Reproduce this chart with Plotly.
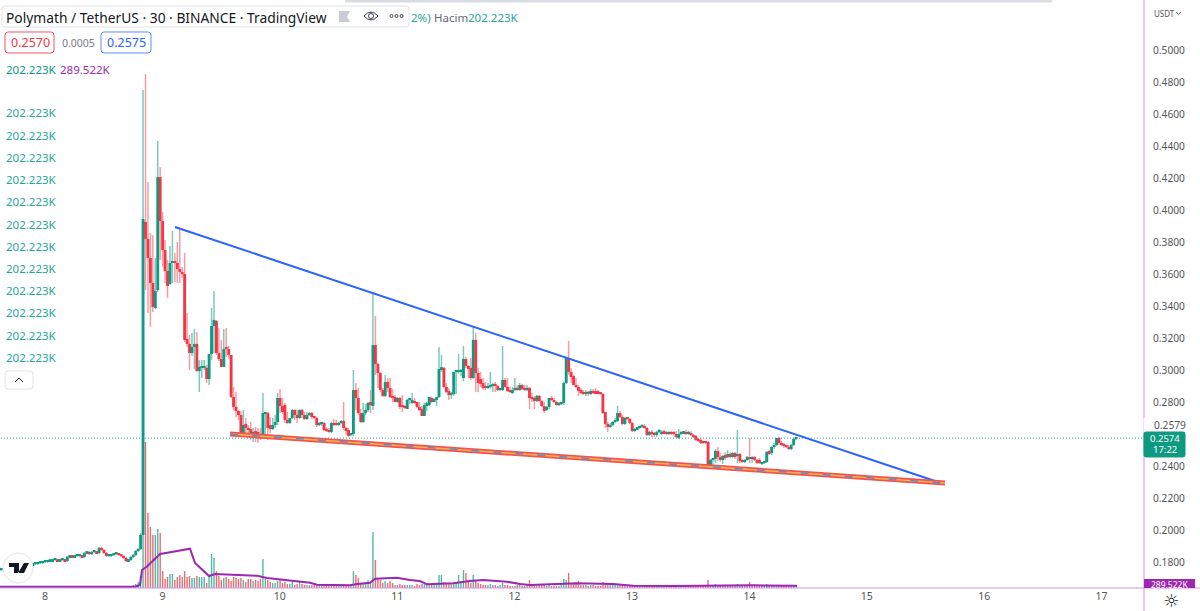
import plotly.graph_objects as go

WIDTH = 1200
HEIGHT = 611

GREEN = '#0d9a80'
RED = '#f23645'
PINK = '#d78fe3'
PURPLE = '#9c27b0'
FONT = 'Noto Sans'

# 30 minute candles, first one at start_day, one every 1/48 day
start_day = 7.627

opens = [
    .1750, .1750, .1750, .1756, .1750, .1756, .1763, .1763, .1769, .1769,
    .1775, .1775, .1781, .1781, .1788, .1788, .1794, .1794, .1800, .1800,
    .1806, .1806, .1813, .1813, .1806, .1813, .1813, .1806, .1831, .1834,
    .1831, .1838, .1838, .1838, .1831, .1856, .1859, .1850, .1863, .1863,
    .1856, .1888, .1875, .1856, .1838, .1838, .1844, .1850, .1850, .1844,
    .1838, .1825, .1806, .1813, .1831, .1844, .1869, .1881,
    .1969, .3925, .3819, .3700, .3544, .3388, .3500, .4206, .3931, .3750,
    .3619, .3538, .3669, .3681, .3669, .3631, .3613, .3600, .3194, .3163,
    .3106, .3144, .3163, .2994, .3013, .3013, .3013, .2944, .3100, .3275,
    .3306, .3106, .3069, .3019, .3144, .3131, .3094, .2831, .2769, .2744,
    .2719, .2606, .2663, .2638, .2631, .2600, .2613, .2613, .2600, .2581,
    .2725, .2731, .2656, .2631, .2656, .2675, .2825, .2775, .2781, .2688,
    .2669, .2700, .2750, .2719, .2700, .2750, .2719, .2694, .2719, .2731,
    .2706, .2700, .2656, .2663, .2669, .2631, .2625, .2613, .2669, .2669,
    .2656, .2669, .2681, .2638, .2625, .2594, .2600, .2875, .2825, .2731,
    .2675, .2731, .2750, .2800, .2775, .3156, .3038, .2981, .2875, .2838,
    .2925, .2888, .2831, .2831, .2800, .2825, .2775, .2769, .2756, .2813,
    .2794, .2806, .2800, .2769, .2756, .2713, .2781, .2781, .2825, .2806,
    .2813, .2831, .3006, .3013, .2894, .2869, .2844, .2850, .2988, .2988,
    .2988, .2950, .3069, .3025, .3013, .2950, .3188, .2981, .2944, .2919,
    .2894, .2888, .2894, .2900, .2913, .2900, .2875, .2875, .2938, .2894,
    .2875, .2856, .2875, .2888, .2875, .2906, .2888, .2875, .2888, .2825,
    .2825, .2806, .2838, .2806, .2775, .2750, .2769, .2825, .2813, .2800,
    .2781, .2788, .2794, .2919, .3075, .2988, .2963, .2906, .2894, .2875,
    .2863, .2850, .2863, .2850, .2869, .2863, .2863, .2856, .2850, .2738,
    .2663, .2644, .2656, .2675, .2681, .2731, .2706, .2663, .2700, .2694,
    .2669, .2619, .2631, .2638, .2644, .2650, .2638, .2594, .2613, .2600,
    .2594, .2613, .2600, .2613, .2606, .2600, .2606, .2606, .2600, .2575,
    .2600, .2606, .2613, .2600, .2606, .2594, .2588, .2569, .2563, .2550,
    .2550, .2550, .2406, .2438, .2444, .2494, .2456, .2438, .2463, .2456,
    .2475, .2456, .2481, .2463, .2475, .2431, .2425, .2438, .2456, .2444,
    .2456, .2438, .2438, .2413, .2419, .2425, .2488, .2481, .2519, .2531,
    .2575, .2544, .2538, .2525, .2519, .2506, .2531, .2569,
]

highs = [
    .1756, .1756, .1763, .1763, .1763, .1769, .1769, .1775, .1775, .1781,
    .1781, .1788, .1788, .1794, .1794, .1800, .1800, .1806, .1806, .1813,
    .1813, .1819, .1819, .1819, .1819, .1819, .1819, .1838, .1844, .1844,
    .1844, .1844, .1844, .1844, .1863, .1869, .1869, .1869, .1869, .1869,
    .1894, .1894, .1881, .1863, .1844, .1850, .1856, .1856, .1856, .1850,
    .1844, .1831, .1819, .1838, .1850, .1875, .1888, .1981,
    .4750, .4850, .4175, .3856, .3844, .3700, .4431, .4269, .3988, .3813,
    .3688, .3775, .3869, .3731, .3800, .3888, .3644, .3731, .3356, .3219,
    .3231, .3256, .3238, .3063, .3063, .3063, .3031, .3094, .3388, .3494,
    .3313, .3263, .3188, .3256, .3263, .3150, .3094, .2894, .2863, .2750,
    .2744, .2750, .2700, .2656, .2675, .2638, .2644, .2638, .2638, .2856,
    .2738, .2738, .2706, .2700, .2719, .2856, .2881, .2825, .2794, .2738,
    .2700, .2756, .2756, .2750, .2756, .2756, .2738, .2738, .2738, .2738,
    .2713, .2706, .2675, .2675, .2675, .2644, .2638, .2675, .2694, .2688,
    .2675, .2688, .2800, .2644, .2638, .2606, .3000, .2919, .2888, .2756,
    .2794, .2788, .2800, .2875, .3488, .3338, .3044, .2988, .2888, .2969,
    .2950, .2950, .2881, .2844, .2831, .2831, .2844, .2781, .2819, .2825,
    .2856, .2825, .2800, .2800, .2775, .2794, .2800, .2831, .2831, .2825,
    .2831, .3144, .3094, .3019, .2919, .2888, .2863, .2988, .2994, .3100,
    .3006, .3150, .3081, .3031, .3075, .3275, .3231, .3013, .2988, .2950,
    .2925, .2919, .2988, .2919, .2925, .2906, .2881, .3150, .2950, .2950,
    .2894, .2894, .2950, .2906, .2919, .2913, .2906, .2906, .2894, .2856,
    .2838, .2844, .2844, .2813, .2800, .2775, .2825, .2838, .2825, .2806,
    .2800, .2800, .2925, .3081, .3181, .3013, .2969, .2950, .2906, .2888,
    .2875, .2875, .2869, .2881, .2881, .2888, .2875, .2863, .2856, .2738,
    .2675, .2669, .2681, .2700, .2775, .2744, .2719, .2706, .2706, .2700,
    .2675, .2638, .2644, .2650, .2663, .2663, .2644, .2619, .2625, .2613,
    .2619, .2631, .2625, .2625, .2619, .2619, .2619, .2619, .2619, .2631,
    .2619, .2619, .2625, .2619, .2619, .2600, .2594, .2575, .2575, .2556,
    .2556, .2556, .2444, .2450, .2506, .2519, .2481, .2469, .2488, .2500,
    .2488, .2488, .2488, .2625, .2481, .2444, .2444, .2463, .2575, .2463,
    .2463, .2444, .2450, .2425, .2431, .2494, .2500, .2525, .2544, .2575,
    .2581, .2556, .2544, .2531, .2531, .2538, .2575, .2581,
]

lows = [
    .1744, .1744, .1744, .1744, .1744, .1750, .1756, .1756, .1763, .1763,
    .1769, .1769, .1775, .1775, .1781, .1781, .1788, .1788, .1794, .1794,
    .1800, .1800, .1806, .1800, .1800, .1806, .1800, .1800, .1825, .1825,
    .1825, .1831, .1831, .1825, .1825, .1850, .1844, .1844, .1856, .1850,
    .1850, .1869, .1850, .1831, .1831, .1831, .1838, .1844, .1838, .1831,
    .1819, .1800, .1800, .1806, .1825, .1838, .1863, .1875,
    .1969, .3500, .3356, .3269, .3363, .3381, .3488, .3688, .3644, .3544,
    .3450, .3531, .3544, .3550, .3544, .3544, .3575, .3175, .3144, .3000,
    .3088, .3006, .2988, .2863, .2950, .3000, .2919, .2906, .3063, .3106,
    .3094, .3056, .3019, .3019, .3081, .3069, .2825, .2750, .2706, .2688,
    .2594, .2600, .2600, .2594, .2563, .2550, .2550, .2544, .2563, .2569,
    .2581, .2563, .2606, .2625, .2638, .2656, .2731, .2725, .2669, .2663,
    .2663, .2694, .2688, .2669, .2694, .2700, .2688, .2688, .2713, .2694,
    .2694, .2644, .2650, .2650, .2619, .2613, .2606, .2606, .2650, .2650,
    .2650, .2663, .2625, .2594, .2581, .2588, .2588, .2750, .2719, .2669,
    .2669, .2719, .2738, .2731, .2750, .2969, .2888, .2863, .2831, .2831,
    .2863, .2825, .2800, .2800, .2794, .2756, .2738, .2756, .2756, .2788,
    .2788, .2788, .2763, .2744, .2713, .2713, .2744, .2775, .2794, .2800,
    .2775, .2825, .2988, .2888, .2856, .2813, .2819, .2838, .2850, .2975,
    .2963, .2931, .3013, .2950, .2938, .2944, .2863, .2863, .2894, .2875,
    .2875, .2881, .2888, .2863, .2863, .2869, .2869, .2869, .2888, .2863,
    .2856, .2850, .2869, .2869, .2869, .2875, .2869, .2869, .2756, .2800,
    .2756, .2800, .2800, .2769, .2731, .2744, .2756, .2806, .2794, .2775,
    .2775, .2781, .2781, .2913, .2969, .2919, .2906, .2888, .2838, .2850,
    .2844, .2838, .2838, .2844, .2850, .2850, .2850, .2844, .2725, .2638,
    .2613, .2638, .2650, .2669, .2675, .2700, .2656, .2656, .2688, .2663,
    .2613, .2613, .2625, .2631, .2638, .2631, .2588, .2588, .2581, .2581,
    .2581, .2606, .2594, .2600, .2594, .2594, .2594, .2594, .2575, .2569,
    .2594, .2600, .2594, .2594, .2588, .2575, .2556, .2550, .2538, .2538,
    .2538, .2400, .2400, .2394, .2419, .2431, .2425, .2413, .2438, .2450,
    .2450, .2450, .2444, .2419, .2419, .2419, .2419, .2431, .2419, .2419,
    .2431, .2413, .2413, .2406, .2413, .2419, .2469, .2469, .2506, .2525,
    .2531, .2525, .2513, .2513, .2500, .2500, .2525, .2563,
]

closes = [
    .1750, .1750, .1756, .1750, .1756, .1763, .1763, .1769, .1769, .1775,
    .1775, .1781, .1781, .1788, .1788, .1794, .1794, .1800, .1800, .1806,
    .1806, .1813, .1813, .1806, .1813, .1813, .1806, .1831, .1834, .1831,
    .1838, .1838, .1838, .1831, .1856, .1859, .1850, .1863, .1863, .1856,
    .1888, .1875, .1856, .1838, .1838, .1844, .1850, .1850, .1844, .1838,
    .1825, .1806, .1813, .1831, .1844, .1869, .1881, .1969,
    .3944, .3819, .3700, .3544, .3394, .3494, .4206, .3931, .3750, .3619,
    .3525, .3669, .3681, .3669, .3631, .3613, .3600, .3188, .3163, .3106,
    .3144, .3163, .2994, .3019, .3019, .3019, .2944, .3100, .3275, .3313,
    .3106, .3069, .3019, .3131, .3131, .3094, .2831, .2769, .2744, .2719,
    .2606, .2656, .2638, .2625, .2600, .2606, .2606, .2594, .2581, .2731,
    .2731, .2638, .2631, .2656, .2675, .2825, .2775, .2738, .2688, .2669,
    .2700, .2750, .2719, .2700, .2750, .2719, .2694, .2719, .2731, .2706,
    .2700, .2656, .2669, .2669, .2625, .2619, .2613, .2669, .2656, .2656,
    .2669, .2681, .2638, .2619, .2588, .2600, .2875, .2825, .2731, .2675,
    .2731, .2750, .2794, .2781, .3156, .3038, .2981, .2875, .2838, .2925,
    .2888, .2831, .2825, .2800, .2825, .2769, .2769, .2763, .2813, .2819,
    .2813, .2794, .2769, .2750, .2713, .2781, .2788, .2831, .2800, .2813,
    .2831, .3006, .3013, .2894, .2863, .2844, .2850, .2988, .2994, .2994,
    .2994, .3069, .3025, .3006, .2950, .3188, .2981, .2919, .2913, .2888,
    .2888, .2894, .2900, .2906, .2900, .2875, .2881, .2938, .2894, .2869,
    .2863, .2875, .2888, .2875, .2906, .2881, .2875, .2888, .2825, .2819,
    .2806, .2838, .2806, .2775, .2744, .2769, .2825, .2813, .2800, .2781,
    .2794, .2794, .2919, .3075, .2988, .2956, .2906, .2894, .2869, .2856,
    .2850, .2863, .2850, .2869, .2856, .2856, .2856, .2850, .2731, .2663,
    .2644, .2656, .2675, .2681, .2731, .2706, .2663, .2700, .2694, .2669,
    .2619, .2631, .2638, .2644, .2650, .2638, .2594, .2613, .2600, .2594,
    .2613, .2619, .2613, .2606, .2600, .2606, .2600, .2600, .2581, .2600,
    .2606, .2613, .2600, .2613, .2594, .2581, .2563, .2556, .2544, .2544,
    .2544, .2406, .2438, .2444, .2494, .2456, .2438, .2463, .2456, .2475,
    .2456, .2481, .2456, .2475, .2431, .2425, .2438, .2456, .2444, .2450,
    .2438, .2419, .2419, .2419, .2425, .2488, .2481, .2519, .2531, .2575,
    .2544, .2531, .2525, .2519, .2506, .2531, .2569, .2575,
]

# volume in millions
volumes = [
    .2, .2, .2, .2, .2, .2, .2, .2, .2, .2,
    .2, .2, .2, .2, .2, .2, .2, .2, .2, .2,
    .2, .2, .2, .2, .2, .2, .2, .2, .2, .2,
    .2, .2, .2, .2, .2, .2, .2, .2, .2, .2,
    .2, .2, .2, .2, .2, .2, .2, .2, .2, .2,
    .2, .2, .2, .2, .3, .4, .6, 1.2,
    15.5, 14.6, 7.5, 6.1, 5.3, 5.3, 5.9, 5.5, 1.7, .9,
    1.1, 1.4, 1.4, .8, 1.1, 1.3, 1.1, 1.7, 1.1, 1.2,
    1.0, 1.0, 1.2, 1.1, 1.1, 1.1, .5, 1.1, 3.4, 3.0,
    1.7, 1.2, .8, 1.0, 1.1, .9, .7, 1.1, 1.0, .9,
    1.0, .8, .6, .9, .9, .7, .8, .7, .9, 2.9,
    .9, .8, .6, .5, .5, .7, .9, .5, .6, .4,
    .4, .6, .3, .4, .6, .4, .3, .3, .3, .3,
    .3, .3, .3, .3, .3, .3, .2, .3, .3, .2,
    .2, .2, .4, .2, .2, .3, 1.7, 1.3, 1.0, .4,
    .4, .5, .8, .6, 5.6, 2.8, 1.0, .8, .5, .7,
    .5, .7, .5, .3, .3, .4, .3, .3, .3, .3,
    .3, .2, .4, .3, .4, .4, .3, .4, .3, .4,
    .5, 1.3, 1.3, .6, .5, .4, .4, .5, .5, 1.3,
    .6, 1.8, 1.5, .6, .5, 1.3, .7, .5, .4, .3,
    .3, .3, .4, .3, .3, .2, .3, .5, .3, .3,
    .2, .2, .2, .3, .3, .2, .2, .3, .8, .3,
    .3, .2, .3, .3, .3, .2, .3, .2, .2, .2,
    .2, .5, .9, .8, 1.5, .5, .4, .4, .7, .3,
    .3, .3, .2, .3, .3, .2, .2, .2, .6, .5,
    .4, .3, .3, .3, .4, .3, .3, .3, .3, .2,
    .3, .2, .2, .2, .2, .2, .3, .2, .2, .2,
    .2, .2, .2, .1, .2, .2, .2, .2, .2, .2,
    .2, .2, .2, .2, .2, .2, .2, .2, .2, .2,
    .2, .8, .3, .3, .4, .3, .2, .2, .2, .2,
    .2, .2, .2, .4, .2, .2, .2, .2, .6, .3,
    .2, .3, .2, .2, .2, .4, .2, .2, .2, .3,
    .3, .2, .2, .2, .2, .2, .3, .2,
]

# volume moving average read at its bends
ma_days = [
    7.617, 8.767, 8.809, 8.826, 8.866, 8.922, 8.980, 9.090, 9.235, 9.278,
    9.346, 9.397, 9.448, 9.806, 9.891, 10.172, 10.257, 10.317, 10.598, 10.658,
    10.768, 10.811, 10.998, 11.109, 11.194, 11.254, 11.475, 11.620, 11.731, 11.935,
    12.046, 12.131, 12.412, 12.532, 12.838, 13.009, 13.349, 14.031, 14.405,
]
ma_values = [
    .13, .13, .3, 1.8, 2.13, 2.8, 3.4, 3.63, 3.93, 2.5,
    1.73, 1.2, 1.4, 1.23, 1.0, .63, .53, .33, .27, .4,
    .53, .93, 1.03, .8, .7, .37, .47, .7, .8, .63,
    .4, .3, .37, .47, .4, .23, .2, .27, .23,
]

# drawn trend lines
upper_days = [9.107, 15.581]
upper_prices = [.3894, .2306]
lower_days = [9.576, 15.666]
lower_prices = [.2600, .2294]

last_price = .2574
axis_days = [7.6, 17.4]

day_ticks = [8, 9, 10, 11, 12, 13, 14, 15, 16, 17]
price_ticks = [.50, .48, .46, .44, .42, .40, .38, .36, .34, .32, .30, .28, .24, .22, .20, .18]
price_labels = ['%.4f' % p for p in price_ticks]

title_text = 'Polymath / TetherUS · 30 · BINANCE · TradingView'
volume_text = '202.223K'
ma_text = '289.522K'
volume_rows = 12


def fx(px):
    return px / WIDTH


def fy(py):
    return 1 - py / HEIGHT


def path(*parts):
    # parts are letters or (px, py) pairs in screen pixels
    out = []
    for part in parts:
        out.append(part if isinstance(part, str) else '%.5f %.5f' % (fx(part[0]), fy(part[1])))
    return ' '.join(out)


def rect(x0, y0, x1, y1, fill, line=None):
    return dict(type='rect', xref='paper', yref='paper', x0=fx(x0), x1=fx(x1), y0=fy(y0), y1=fy(y1),
                fillcolor=fill, line=dict(color=line or fill, width=1 if line else 0), layer='above')


def rounded(x0, y0, x1, y1, line, fill='white', r=3):
    d = path('M', (x0 + r, y0), 'L', (x1 - r, y0), 'Q', (x1, y0), (x1, y0 + r), 'L', (x1, y1 - r),
             'Q', (x1, y1), (x1 - r, y1), 'L', (x0 + r, y1), 'Q', (x0, y1), (x0, y1 - r), 'L', (x0, y0 + r),
             'Q', (x0, y0), (x0 + r, y0), 'Z')
    return dict(type='path', xref='paper', yref='paper', path=d, fillcolor=fill,
                line=dict(color=line, width=1), layer='above')


def circle(cx, cy, r, fill, line, width=1):
    return dict(type='circle', xref='paper', yref='paper', x0=fx(cx - r), x1=fx(cx + r), y0=fy(cy - r), y1=fy(cy + r),
                fillcolor=fill, line=dict(color=line, width=width), layer='above')


def label(px, py, text, color='#555555', size=12, anchor='left', **kw):
    return dict(xref='paper', yref='paper', x=fx(px), y=fy(py), text=text, showarrow=False, xanchor=anchor,
                yanchor='middle', font=dict(family=kw.pop('family', FONT), size=size, color=color), borderpad=0, **kw)


days = [start_day + i / 48 for i in range(len(closes))]
is_up = [c >= o for o, c in zip(opens, closes)]
body_colors = [GREEN if up else RED for up in is_up]
wick_colors = ['rgba(13,154,128,0.55)' if up else 'rgba(242,54,69,0.5)' for up in is_up]
volume_colors = ['rgba(13,154,128,0.7)' if up else 'rgba(222,60,70,0.75)' for up in is_up]
body_base = [min(o, c) for o, c in zip(opens, closes)]
body_size = [max(abs(c - o), .0012) for o, c in zip(opens, closes)]
wick_size = [h - l for h, l in zip(highs, lows)]

fig = go.Figure()
fig.add_trace(go.Bar(x=days, y=volumes, width=.012, marker=dict(color=volume_colors, line=dict(width=0)), yaxis='y'))
fig.add_trace(go.Scatter(x=ma_days, y=ma_values, mode='lines', line=dict(color=PURPLE, width=2), yaxis='y'))
fig.add_trace(go.Scatter(x=axis_days, y=[last_price, last_price], mode='lines', yaxis='y2',
                         line=dict(color='#26a69a', width=1, dash='1px,2px')))
fig.add_trace(go.Bar(x=days, y=wick_size, base=lows, width=.0125, yaxis='y2',
                     marker=dict(color=wick_colors, line=dict(width=0))))
fig.add_trace(go.Bar(x=days, y=body_size, base=body_base, width=.0245, yaxis='y2',
                     marker=dict(color=body_colors, line=dict(width=0))))
fig.add_trace(go.Scatter(x=upper_days, y=upper_prices, mode='lines', yaxis='y2', line=dict(color='#2962ff', width=2)))
fig.add_trace(go.Scatter(x=lower_days, y=lower_prices, mode='lines', yaxis='y2', line=dict(color='#f4524f', width=5)))
fig.add_trace(go.Scatter(x=lower_days, y=lower_prices, mode='lines', yaxis='y2', line=dict(color='#f9b64d', width=1.5)))
fig.add_trace(go.Scatter(x=lower_days, y=lower_prices, mode='lines', yaxis='y2',
                         line=dict(color='#5b8fc7', width=1.5, dash='8px,14px')))

shapes = [
    rect(345, 0, 1052, 2.5, '#d9dce3'),
    # axis lines
    rect(0, 587.5, 1200, 588.5, PINK),
    rect(1143.5, 0, 1144.5, 611, PINK),
    # price tags
    rect(1143.5, 418, 1190, 432, 'white'),
    rounded(1144, 432, 1185, 457, GREEN, GREEN, 2),
    rect(1144, 579, 1195, 588, '#9c27b0'),
    # header
    rounded(2, 6, 409, 27, '#dfe2ea'),
    dict(type='path', xref='paper', yref='paper', layer='above', fillcolor='#c9ccd4', line=dict(width=0),
         path=path('M', (339, 11), 'L', (350, 11), 'L', (347, 16.5), 'L', (350, 22), 'L', (339, 22), 'Z')),
    dict(type='path', xref='paper', yref='paper', layer='above', fillcolor='white',
         line=dict(color='#3a3e4a', width=1),
         path=path('M', (364, 16), 'Q', (371, 8), (378, 16), 'Q', (371, 24), (364, 16), 'Z')),
    circle(371, 16, 2.5, 'white', '#3a3e4a'),
    circle(391.5, 16, 1.5, 'white', '#555555'),
    circle(396.5, 16, 1.5, 'white', '#555555'),
    circle(401.5, 16, 1.5, 'white', '#555555'),
    rounded(5, 32, 54, 53, '#f7525f'),
    rounded(101, 32, 151, 53, '#5b8cff'),
    # collapse button
    rounded(5, 371, 33, 389, '#e0e3eb'),
    dict(type='path', xref='paper', yref='paper', layer='above', line=dict(color='#222222', width=1),
         path=path('M', (15, 382), 'L', (19, 378), 'L', (23, 382))),
    # logo
    circle(18, 568, 15, 'white', '#e6e6e9'),
    dict(type='path', xref='paper', yref='paper', layer='above', fillcolor='#131722', line=dict(width=0),
         path=path('M', (9, 563), 'L', (19, 563), 'L', (19, 573), 'L', (14, 573), 'L', (14, 567), 'L', (9, 567), 'Z',
                   'M', (24, 563), 'L', (29, 563), 'L', (24, 573), 'L', (18, 573), 'Z')),
]

annotations = [
    label(5, 17, title_text, '#131722', 13.8),
    label(410, 18, '2%)', '#26a69a', 11.5),
    label(433, 18, 'Hacim', '#666a75', 11.5),
    label(467, 18, volume_text, '#26a69a', 11.5),
    label(30, 43, '0.2570', RED, 12.5, 'center'),
    label(78, 43, '0.0005', '#787b86', 10.5, 'center'),
    label(126, 43, '0.2575', '#2962ff', 12.5, 'center'),
    label(5, 69, volume_text, GREEN, 11.5),
    label(59, 69, ma_text, PURPLE, 11.5),
    label(1152.5, 425, '0.2579', '#555555', 10.2),
    label(1164.5, 438.5, '0.2574', 'white', 9.5, 'center'),
    label(1164.5, 449.5, '17:22', 'white', 9.5, 'center'),
    label(1169.5, 584, ma_text, 'white', 8.5, 'center'),
    label(1153, 13, 'USDT', '#555555', 8),
    label(1171, 600, '☼', '#222222', 18, 'center', family='DejaVu Sans'),
]
for row in range(volume_rows):
    annotations.append(label(5, 113 + row * 22.2, volume_text, '#26a69a', 11.5))
shapes.append(dict(type='path', xref='paper', yref='paper', layer='above', line=dict(color='#555555', width=1),
                   path=path('M', (1176, 12), 'L', (1178.5, 14.5), 'L', (1181, 12))))

fig.update_layout(
    width=WIDTH,
    height=HEIGHT,
    margin=dict(l=0, r=0, t=0, b=0),
    autosize=False,
    paper_bgcolor='white',
    plot_bgcolor='white',
    showlegend=False,
    barmode='overlay',
    hovermode=False,
    shapes=shapes,
    annotations=annotations,
    font=dict(family=FONT, color='#555555', size=11),
    xaxis=dict(
        domain=[0, 1144 / WIDTH],
        range=[8 - 45 / 117.4, 8 + (1144 - 45) / 117.4],
        tickvals=day_ticks,
        ticktext=[str(d) for d in day_ticks],
        showgrid=False,
        zeroline=False,
        showline=False,
        ticks='',
        tickfont=dict(size=10.5, color='#555555'),
    ),
    yaxis=dict(
        domain=[23 / HEIGHT, 1],
        range=[0, 58.8],
        visible=False,
    ),
    yaxis2=dict(
        overlaying='y',
        side='right',
        anchor='x',
        range=[.16375, .53125],
        tickvals=price_ticks,
        ticktext=price_labels,
        showgrid=False,
        zeroline=False,
        showline=False,
        ticks='',
        tickfont=dict(size=10.2, color='#555555'),
        ticklabelstandoff=8,
    ),
)

fig.write_html('out.html', config=dict(displayModeBar=False), post_script="document.body.style.margin='0'")
